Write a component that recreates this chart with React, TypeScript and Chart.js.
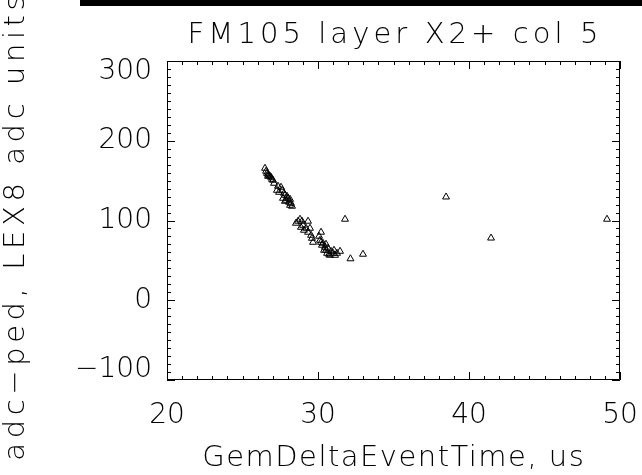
import React, { useEffect, useRef } from "react";
import { Chart, registerables } from "chart.js";

Chart.register(...registerables);

const TITLE = "FM105 layer X2+ col 5";
const X_TITLE = "GemDeltaEventTime, us";
const Y_TITLE = "adc\u2212ped, LEX8 adc units";
const X_TICKS = [20, 30, 40, 50];
const Y_TICKS = [-100, 0, 100, 200, 300];
const X_TICK_LABELS = ["20", "30", "40", "50"];
const Y_TICK_LABELS = ["\u2212100", "0", "100", "200", "300"];

const xValues = [
  26.49, 26.56, 26.62, 26.69, 26.75, 26.82, 26.89, 26.95, 27.02, 26.69,
  27.09, 27.35, 27.55, 27.28, 27.42, 27.62, 27.75, 27.81, 27.95, 28.01,
  28.15, 27.88, 28.08, 28.21, 28.15, 28.28, 27.81, 27.68,
  28.54, 28.68, 28.81, 28.94, 29.01, 28.87, 29.34, 29.21, 29.34, 29.47,
  29.54, 29.6, 29.67, 30.2, 30.13, 30.2, 30.26, 30.33, 30.46, 30.4,
  30.53, 30.6, 30.73, 30.79, 30.86, 31.0, 31.13, 31.26, 31.46, 30.66,
  30.53, 30.07, 29.07, 31.06,
  31.79, 32.15, 32.98, 38.48, 41.46, 49.14,
];
const yValues = [
  165.5, 161.8, 159.2, 158, 156.7, 155.5, 154.2, 151.7, 150.5, 155.5,
  146.7, 143, 141.7, 137.9, 135.4, 137.9, 134.2, 131.7, 130.4, 127.9,
  126.6, 125.4, 122.9, 121.6, 119.1, 117.9, 124.1, 127.9,
  96.6, 99.1, 101.6, 99.1, 94, 91.5, 99.1, 90.3, 85.3, 90.3,
  81.5, 77.7, 72.7, 85.3, 75.2, 72.7, 69, 71.5, 66.5, 62.7,
  62.7, 58.9, 57.7, 56.4, 61.4, 58.9, 56.4, 58.9, 61.4, 65.2,
  70.2, 80.3, 87.8, 62.7,
  101.6, 52, 57.7, 129.5, 78, 101.6,
];

const TICK_FONT = "200 28px 'DejaVu Sans', Roboto, sans-serif";
const TITLE_FONT = "200 29px 'DejaVu Sans', Roboto, sans-serif";

function fitText(ctx: any, text: string, x: number, y: number, width: number) {
  ctx.letterSpacing = "0px";
  const w = ctx.measureText(text).width;
  const n = Array.from(text).length;
  const sp = (width - w) / n;
  ctx.letterSpacing = `${sp}px`;
  ctx.fillText(text, x + sp / 2, y);
  ctx.letterSpacing = "0px";
}

const idlPlugin = {
  id: "idlFrame",
  afterDraw(chart: any) {
    const ctx = chart.ctx as CanvasRenderingContext2D;
    const { left, right, top, bottom } = chart.chartArea;
    const xs = chart.scales.x;
    const ys = chart.scales.y;
    ctx.save();
    ctx.fillStyle = "#000";
    ctx.fillRect(80, 0, 562, 6);

    ctx.strokeStyle = "#000";
    ctx.lineWidth = 1;
    ctx.beginPath();
    ctx.rect(left + 0.5, top + 0.5, right - left - 1, bottom - top - 1);
    ctx.stroke();

    ctx.beginPath();
    for (let v = xs.min; v <= xs.max; v += 1) {
      const px = Math.round(xs.getPixelForValue(v)) + 0.5;
      const len = v % 10 === 0 ? 8 : 4;
      ctx.moveTo(px, bottom);
      ctx.lineTo(px, bottom - len);
      ctx.moveTo(px, top);
      ctx.lineTo(px, top + len);
    }
    for (let v = ys.min; v <= ys.max; v += 10) {
      const py = Math.round(ys.getPixelForValue(v)) + 0.5;
      const len = v % 100 === 0 ? 8 : 4;
      ctx.moveTo(left, py);
      ctx.lineTo(left + len, py);
      ctx.moveTo(right, py);
      ctx.lineTo(right - len, py);
    }
    ctx.stroke();

    ctx.fillStyle = "#000";
    ctx.font = TICK_FONT;
    ctx.textBaseline = "middle";
    ctx.textAlign = "center";
    X_TICKS.forEach((v, i) => {
      ctx.fillText(X_TICK_LABELS[i], xs.getPixelForValue(v), 416);
    });
    ctx.textAlign = "right";
    Y_TICKS.forEach((v, i) => {
      let py = ys.getPixelForValue(v);
      if (py < top + 11) py = top + 11;
      if (py > bottom - 10) py = bottom - 10;
      ctx.fillText(Y_TICK_LABELS[i], 152, py);
    });

    ctx.font = TITLE_FONT;
    ctx.textAlign = "center";
    fitText(ctx, TITLE, 393, 35, 415);
    fitText(ctx, X_TITLE, 393, 458, 383);

    ctx.translate(16, 228);
    ctx.rotate(-Math.PI / 2);
    fitText(ctx, Y_TITLE, 0, 0, 470);
    ctx.restore();
  },
};

export default function App() {
  const ref = useRef<HTMLCanvasElement | null>(null);
  useEffect(() => {
    if (!ref.current) return;
    const data = xValues.map((x, i) => ({ x, y: yValues[i] }));
    const chart = new Chart(ref.current, {
      type: "scatter",
      data: {
        datasets: [
          {
            data,
            pointStyle: "triangle",
            pointRadius: 4,
            pointBorderWidth: 1,
            pointBorderColor: "#000",
            pointBackgroundColor: "rgba(255,255,255,0)",
          },
        ],
      },
      options: {
        responsive: false,
        animation: false,
        layout: { padding: { left: 167, right: 22, top: 61, bottom: 95 } },
        plugins: { legend: { display: false }, tooltip: { enabled: false } },
        scales: {
          x: { type: "linear", min: 20, max: 50, display: false },
          y: { type: "linear", min: -100, max: 300, display: false },
        },
      },
      plugins: [idlPlugin],
    });
    return () => chart.destroy();
  }, []);
  return (
    <div style={{ position: "absolute", left: 0, top: 0, width: 642, height: 475, background: "#fff" }}>
      <canvas ref={ref} width={642} height={475} />
    </div>
  );
}
